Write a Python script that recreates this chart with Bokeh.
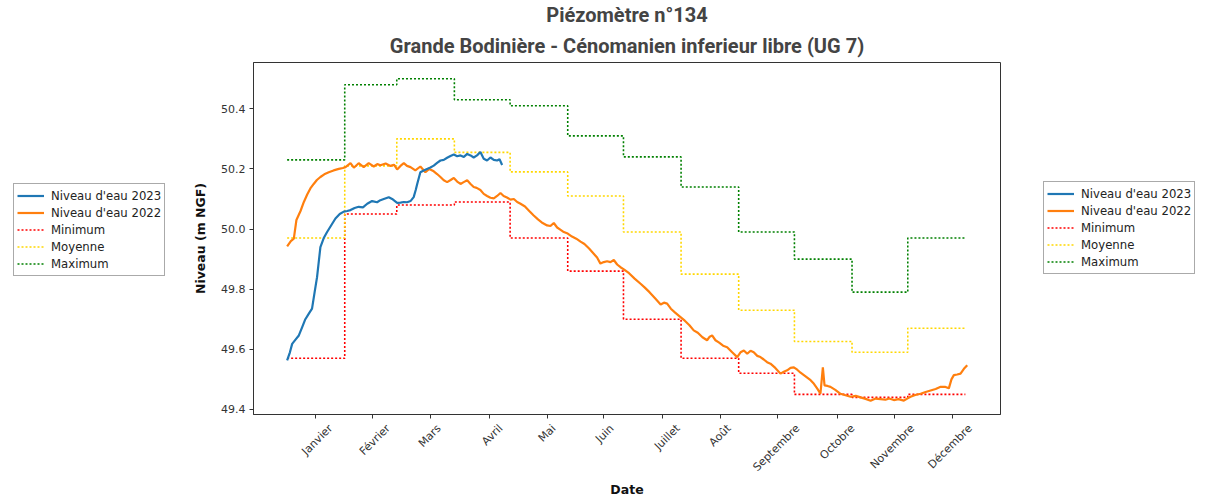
import math
from bokeh.plotting import figure
from bokeh.layouts import row
from bokeh.models import (Range1d, FixedTicker, Legend, LegendItem, Title,
                          PrintfTickFormatter, LinearAxis)
from bokeh.embed import file_html
from bokeh.resources import INLINE

# ---------------- data ----------------
title_line1 = "Piézomètre n°134"
title_line2 = "Grande Bodinière - Cénomanien inferieur libre (UG 7)"

month_labels = ["Janvier", "Février", "Mars", "Avril", "Mai", "Juin", "Juillet",
                "Août", "Septembre", "Octobre", "Novembre", "Décembre"]
month_ticks = [15, 46, 77, 109, 140, 170, 202, 233, 264, 296, 327, 358]
month_bounds = [0, 31, 59, 90, 120, 151, 181, 212, 243, 273, 304, 334, 365]

minimum = [49.57, 50.05, 50.08, 50.09, 49.97, 49.86, 49.70, 49.57, 49.52, 49.45, 49.44, 49.45]
moyenne = [49.97, 50.21, 50.30, 50.255, 50.19, 50.11, 49.99, 49.85, 49.73, 49.626, 49.59, 49.67]
maximum = [50.23, 50.48, 50.50, 50.43, 50.41, 50.31, 50.24, 50.14, 49.99, 49.90, 49.79, 49.97]

day_2023 = [0, 1.5, 2.7, 4.5, 6.3, 8, 9.8, 11.6, 13.4, 14.8, 16.1, 17.9, 19.7, 21.5, 23.5, 26,
            28.3, 30.5, 32.3, 34.1, 36.3, 38.5, 40.8, 43.1, 45.7, 48.4, 50.2, 52, 54.7, 56.5,
            59.2, 61, 62.8, 64.6, 66.4, 68.1, 69.2, 70, 71.7, 73.5, 75.3, 77.1, 78.9, 80.7,
            82.5, 84.3, 86.1, 87.9, 89.7, 91.5, 93.3, 95.1, 96.9, 98.7, 100.4, 102.2, 104,
            105.8, 107.6, 109.4, 111.2, 113, 114.3, 115.7]
niveau_2023 = [49.563, 49.590, 49.618, 49.632, 49.646, 49.672, 49.700, 49.718, 49.735, 49.790,
               49.840, 49.940, 49.970, 49.990, 50.010, 50.035, 50.050, 50.058, 50.060, 50.063,
               50.070, 50.074, 50.072, 50.084, 50.093, 50.089, 50.096, 50.100, 50.106, 50.100,
               50.087, 50.088, 50.090, 50.089, 50.093, 50.106, 50.130, 50.150, 50.189, 50.195,
               50.200, 50.205, 50.211, 50.220, 50.228, 50.230, 50.237, 50.243, 50.248, 50.242,
               50.245, 50.240, 50.250, 50.245, 50.238, 50.245, 50.256, 50.234, 50.228, 50.238,
               50.230, 50.228, 50.232, 50.213]

day_2022 = [0, 2, 3.6, 5, 7.2, 9, 10.8, 12.5, 14.3, 16, 17.9, 20, 22.4, 25, 27.8, 30, 31.4,
            34.1, 35.9, 38.5, 41.2, 43.9, 46.6, 48.5, 50.2, 53, 55.6, 57.5, 59.2, 61, 62.8,
            64.5, 66.4, 69, 71.7, 74.4, 76.5, 78.9, 80.7, 82.5, 84.3, 86.1, 88, 89.7, 91.5,
            93.3, 95, 96.9, 98.7, 100.4, 102, 104, 105.8, 107.6, 109.4, 111.2, 113, 114.8,
            116.5, 118.3, 120.2, 122, 123.8, 125.6, 128, 130.3, 132.7, 135, 137.5, 139.9,
            141.7, 143.5, 145.3, 147, 148.9, 151, 153.3, 155.6, 157.9, 160, 162.5, 165,
            166.8, 168.6, 170.4, 172.2, 174, 175.8, 177.6, 179.4, 181.2, 184, 187, 190.2,
            192.5, 195, 198, 201, 202.8, 204.5, 206.5, 208.8, 211.7, 214, 216.5, 218.8, 221,
            223.5, 226, 227.4, 228.7, 230.5, 232.5, 234.6, 236.8, 239.5, 242.2, 244, 245.8,
            247.6, 249.4, 251.1, 253, 254.7, 256.5, 258.3, 260.1, 262.7, 265.5, 267.3, 269.1,
            270.9, 272.7, 274.5, 276.3, 279, 281.7, 283.5, 285.3, 287, 288.3, 289.2, 290.8,
            292.4, 295, 297.8, 300.5, 303.2, 306, 308.6, 311.3, 314, 316.7, 319.4, 322, 324,
            326.5, 329, 331.9, 333.7, 335.5, 338, 340.9, 343.6, 346.3, 349, 351.7, 354,
            356.1, 357.5, 358.8, 360.6, 362.4, 364.2, 366]
niveau_2022 = [49.942, 49.960, 49.968, 50.030, 50.060, 50.090, 50.115, 50.135, 50.150, 50.163,
               50.173, 50.182, 50.189, 50.195, 50.200, 50.203, 50.206, 50.219, 50.204, 50.219,
               50.206, 50.219, 50.208, 50.216, 50.212, 50.218, 50.210, 50.214, 50.198, 50.210,
               50.219, 50.210, 50.206, 50.195, 50.208, 50.189, 50.200, 50.192, 50.183, 50.173,
               50.162, 50.156, 50.163, 50.170, 50.158, 50.150, 50.156, 50.162, 50.150, 50.140,
               50.137, 50.130, 50.117, 50.110, 50.104, 50.102, 50.110, 50.120, 50.110, 50.105,
               50.098, 50.100, 50.090, 50.084, 50.075, 50.060, 50.045, 50.032, 50.020, 50.012,
               50.010, 50.020, 50.005, 49.998, 49.990, 49.985, 49.975, 49.968, 49.958, 49.950,
               49.935, 49.918, 49.905, 49.885, 49.890, 49.893, 49.890, 49.897, 49.882, 49.873,
               49.866, 49.853, 49.835, 49.818, 49.805, 49.790, 49.770, 49.749, 49.755, 49.752,
               49.735, 49.722, 49.707, 49.695, 49.680, 49.663, 49.655, 49.640, 49.630, 49.642,
               49.646, 49.630, 49.622, 49.612, 49.607, 49.590, 49.574, 49.590, 49.596, 49.585,
               49.595, 49.590, 49.578, 49.574, 49.566, 49.557, 49.552, 49.538, 49.519, 49.525,
               49.530, 49.538, 49.540, 49.532, 49.522, 49.510, 49.497, 49.485, 49.469, 49.452,
               49.540, 49.480, 49.478, 49.475, 49.465, 49.452, 49.447, 49.442, 49.445, 49.440,
               49.435, 49.429, 49.436, 49.434, 49.432, 49.436, 49.431, 49.434, 49.429, 49.436,
               49.442, 49.448, 49.452, 49.458, 49.463, 49.468, 49.475, 49.475, 49.470, 49.500,
               49.514, 49.516, 49.519, 49.535, 49.547]

y_ticks = [49.4, 49.6, 49.8, 50.0, 50.2, 50.4]
legend_labels = ["Niveau d'eau 2023", "Niveau d'eau 2022", "Minimum", "Moyenne", "Maximum"]

# ---------------- styles ----------------
STYLE_23 = dict(line_color="#1f77b4", line_width=2.2)
STYLE_22 = dict(line_color="#ff7f0e", line_width=2.2)
STYLE_MIN = dict(line_color="red", line_width=1.6, line_dash="2 2")
STYLE_MOY = dict(line_color="gold", line_width=1.6, line_dash="2 2")
STYLE_MAX = dict(line_color="green", line_width=1.6, line_dash="2 2")

X_START, X_END = -18.1, 383.9
FRAME_W = 747
PX_PER_DAY = FRAME_W / (X_END - X_START)
LABEL_CHAR_PX = 6.3  # approx. width of one 11px DejaVu Sans character

# ---------------- main figure ----------------
p = figure(frame_width=FRAME_W, frame_height=352, output_backend="svg", toolbar_location=None,
           x_range=Range1d(X_START, X_END), y_range=Range1d(49.383, 50.554),
           min_border_left=75, min_border_right=20, min_border_top=54, min_border_bottom=60,
           title=title_line1)
p.title.text_font = "Roboto"
p.title.text_font_size = "20px"
p.title.text_font_style = "bold"
p.title.align = "center"
p.title.standoff = 0
p.add_layout(Title(text=title_line2, text_font="Roboto", text_font_size="20px",
                   text_font_style="bold", align="center", standoff=10), "above")

p.grid.visible = False
p.background_fill_color = "white"
p.border_fill_color = "white"
p.outline_line_color = "#333333"
p.outline_line_width = 1
p.outline_line_alpha = 1

for ax in (p.xaxis[0], p.yaxis[0]):
    ax.axis_line_color = "#333333"
    ax.major_tick_line_color = "#333333"
    ax.major_tick_out = 4
    ax.major_tick_in = 0
    ax.minor_tick_line_color = None
    ax.major_label_text_font = "DejaVu Sans"
    ax.major_label_text_font_size = "11px"
    ax.major_label_text_color = "#333333"
    ax.axis_label_text_font = "DejaVu Sans"
    ax.axis_label_text_font_size = "12.5px"
    ax.axis_label_text_font_style = "bold"
    ax.axis_label_text_color = "#111111"

p.yaxis.ticker = FixedTicker(ticks=y_ticks)
p.yaxis.formatter = PrintfTickFormatter(format="%.1f")
p.yaxis.axis_label = "Niveau (m NGF)"
p.yaxis.axis_label_standoff = 10
p.yaxis.major_label_standoff = 4

# tick marks at the month positions (labels drawn by a second axis, centred under ticks)
p.xaxis.ticker = FixedTicker(ticks=month_ticks)
p.xaxis.major_label_text_font_size = "0px"
p.xaxis.major_label_standoff = 0
p.xaxis.major_label_overrides = {t: "" for t in month_ticks}

label_pos = [round(t + 0.707 * (len(l) * LABEL_CHAR_PX) / 2 / PX_PER_DAY, 1)
             for t, l in zip(month_ticks, month_labels)]
xlab = LinearAxis(ticker=FixedTicker(ticks=label_pos),
                  major_label_overrides={t: l for t, l in zip(label_pos, month_labels)},
                  major_label_orientation=math.pi / 4,
                  major_label_standoff=2,
                  major_label_text_font="DejaVu Sans",
                  major_label_text_font_size="11px",
                  major_label_text_color="#333333",
                  axis_line_color=None, major_tick_line_color=None, minor_tick_line_color=None,
                  axis_label="Date", axis_label_standoff=0,
                  axis_label_text_font="DejaVu Sans", axis_label_text_font_size="12.5px",
                  axis_label_text_font_style="bold", axis_label_text_color="#111111")
p.add_layout(xlab, "below")

rmin = p.step(month_bounds, minimum + minimum[-1:], mode="after", **STYLE_MIN)
rmoy = p.step(month_bounds, moyenne + moyenne[-1:], mode="after", **STYLE_MOY)
rmax = p.step(month_bounds, maximum + maximum[-1:], mode="after", **STYLE_MAX)
r22 = p.line(day_2022, niveau_2022, **STYLE_22)
r23 = p.line(day_2023, niveau_2023, **STYLE_23)


# ---------------- side legends ----------------
def legend_figure(width, loc):
    f = figure(width=width, height=486, output_backend="svg", toolbar_location=None,
               x_range=Range1d(0, 1), y_range=Range1d(0, 1),
               x_axis_location=None, y_axis_location=None,
               min_border=0, min_border_left=0, min_border_right=0,
               min_border_top=0, min_border_bottom=0)
    f.grid.visible = False
    f.outline_line_color = None
    f.title.visible = False
    # legend keys only: no visible data
    rends = [f.line([math.nan], [math.nan], **s)
             for s in (STYLE_23, STYLE_22, STYLE_MIN, STYLE_MOY, STYLE_MAX)]
    lg = Legend(items=[LegendItem(label=l, renderers=[r]) for l, r in zip(legend_labels, rends)],
                location=loc, orientation="vertical")
    lg.label_text_font = "DejaVu Sans"
    lg.label_text_font_size = "11.7px"
    lg.label_text_color = "#222222"
    lg.glyph_width = 27
    lg.glyph_height = 17
    lg.label_height = 17
    lg.label_standoff = 7
    lg.spacing = 0
    lg.padding = 3
    lg.margin = 0
    lg.border_line_color = "#555555"
    lg.border_line_width = 1
    lg.background_fill_color = "white"
    lg.background_fill_alpha = 1
    f.add_layout(lg)
    return f


left = legend_figure(178, (13, 125))
right = legend_figure(183, (23, 127))

layout = row(left, p, right)
open("out.html", "w").write(file_html(layout, INLINE))
